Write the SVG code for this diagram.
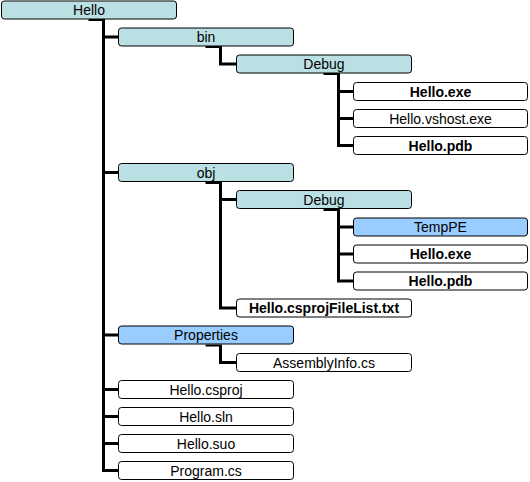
<svg xmlns="http://www.w3.org/2000/svg" width="530" height="482" viewBox="0 0 530 482">
<style>
.n rect{stroke:#000;stroke-width:1}
.f{fill:#BBE0E3}
.b{fill:#99CCFF}
.w{fill:#FFFFFF}
text{font-family:"Liberation Sans",Arial,sans-serif;font-size:14px;fill:#000;text-anchor:middle}
.bd{font-weight:bold}
#connectors path{fill:none;stroke:#000}
.stub{stroke-width:2}
.ln{stroke-width:3}
</style>
<rect width="530" height="482" fill="#FFFFFF"/>
<g id="connectors">
<path class="stub" d="M88.5 20 H105"/>
<path class="ln" d="M103.5 19 V472 M103.5 37 H118 M103.5 172.5 H118 M103.5 335 H118 M103.5 389.5 H118 M103.5 416.5 H118 M103.5 443.5 H118 M102 470.5 H118"/>
<path class="stub" d="M205.5 47 H222"/>
<path class="ln" d="M220.5 46 V65.5 M219 64 H236"/>
<path class="stub" d="M323.5 74 H340"/>
<path class="ln" d="M338.5 73 V147 M338.5 91.5 H353 M338.5 118.5 H353 M337 145.5 H353"/>
<path class="stub" d="M205.5 183 H222"/>
<path class="ln" d="M220.5 182 V309.5 M220.5 199.5 H236 M219 308 H236"/>
<path class="stub" d="M323.5 210 H340"/>
<path class="ln" d="M338.5 209 V282.5 M338.5 227 H353 M338.5 254 H353 M337 281 H353"/>
<path class="stub" d="M205.5 345.5 H222"/>
<path class="ln" d="M220.5 345 V364 M219 362.5 H236"/>
</g>
<g id="n-hello" class="n"><rect class="f" x="1.5" y="1" width="175" height="18" rx="3"/><text x="89" y="15">Hello</text></g>
<g id="n-bin" class="n"><rect class="f" x="118.5" y="28" width="175" height="18" rx="3"/><text x="206" y="42">bin</text></g>
<g id="n-bin-debug" class="n"><rect class="f" x="236.5" y="55" width="175" height="18" rx="3"/><text x="324" y="69">Debug</text></g>
<g id="n-bin-exe" class="n"><rect class="w" x="353.5" y="82.5" width="174" height="18" rx="3"/><text class="bd" x="440.5" y="96.5">Hello.exe</text></g>
<g id="n-bin-vshost" class="n"><rect class="w" x="353.5" y="109.5" width="174" height="18" rx="3"/><text x="440.5" y="123.5">Hello.vshost.exe</text></g>
<g id="n-bin-pdb" class="n"><rect class="w" x="353.5" y="136.5" width="174" height="18" rx="3"/><text class="bd" x="440.5" y="150.5">Hello.pdb</text></g>
<g id="n-obj" class="n"><rect class="f" x="118.5" y="163.5" width="175" height="18" rx="3"/><text x="206" y="177.5">obj</text></g>
<g id="n-obj-debug" class="n"><rect class="f" x="236.5" y="190.5" width="175" height="18" rx="3"/><text x="324" y="204.5">Debug</text></g>
<g id="n-temppe" class="n"><rect class="b" x="353.5" y="218" width="174" height="18" rx="3"/><text x="440.5" y="232">TempPE</text></g>
<g id="n-obj-exe" class="n"><rect class="w" x="353.5" y="245" width="174" height="18" rx="3"/><text class="bd" x="440.5" y="259">Hello.exe</text></g>
<g id="n-obj-pdb" class="n"><rect class="w" x="353.5" y="272" width="174" height="18" rx="3"/><text class="bd" x="440.5" y="286">Hello.pdb</text></g>
<g id="n-filelist" class="n"><rect class="w" x="236.5" y="299" width="175" height="18" rx="3"/><text class="bd" x="324" y="313">Hello.csprojFileList.txt</text></g>
<g id="n-properties" class="n"><rect class="b" x="118.5" y="326" width="175" height="18" rx="3"/><text x="206" y="340">Properties</text></g>
<g id="n-assemblyinfo" class="n"><rect class="w" x="236.5" y="353.5" width="175" height="18" rx="3"/><text x="324" y="367.5">AssemblyInfo.cs</text></g>
<g id="n-csproj" class="n"><rect class="w" x="118.5" y="380.5" width="175" height="18" rx="3"/><text x="206" y="394.5">Hello.csproj</text></g>
<g id="n-sln" class="n"><rect class="w" x="118.5" y="407.5" width="175" height="18" rx="3"/><text x="206" y="421.5">Hello.sln</text></g>
<g id="n-suo" class="n"><rect class="w" x="118.5" y="434.5" width="175" height="18" rx="3"/><text x="206" y="448.5">Hello.suo</text></g>
<g id="n-program" class="n"><rect class="w" x="118.5" y="461.5" width="175" height="18" rx="3"/><text x="206" y="475.5">Program.cs</text></g>
</svg>
